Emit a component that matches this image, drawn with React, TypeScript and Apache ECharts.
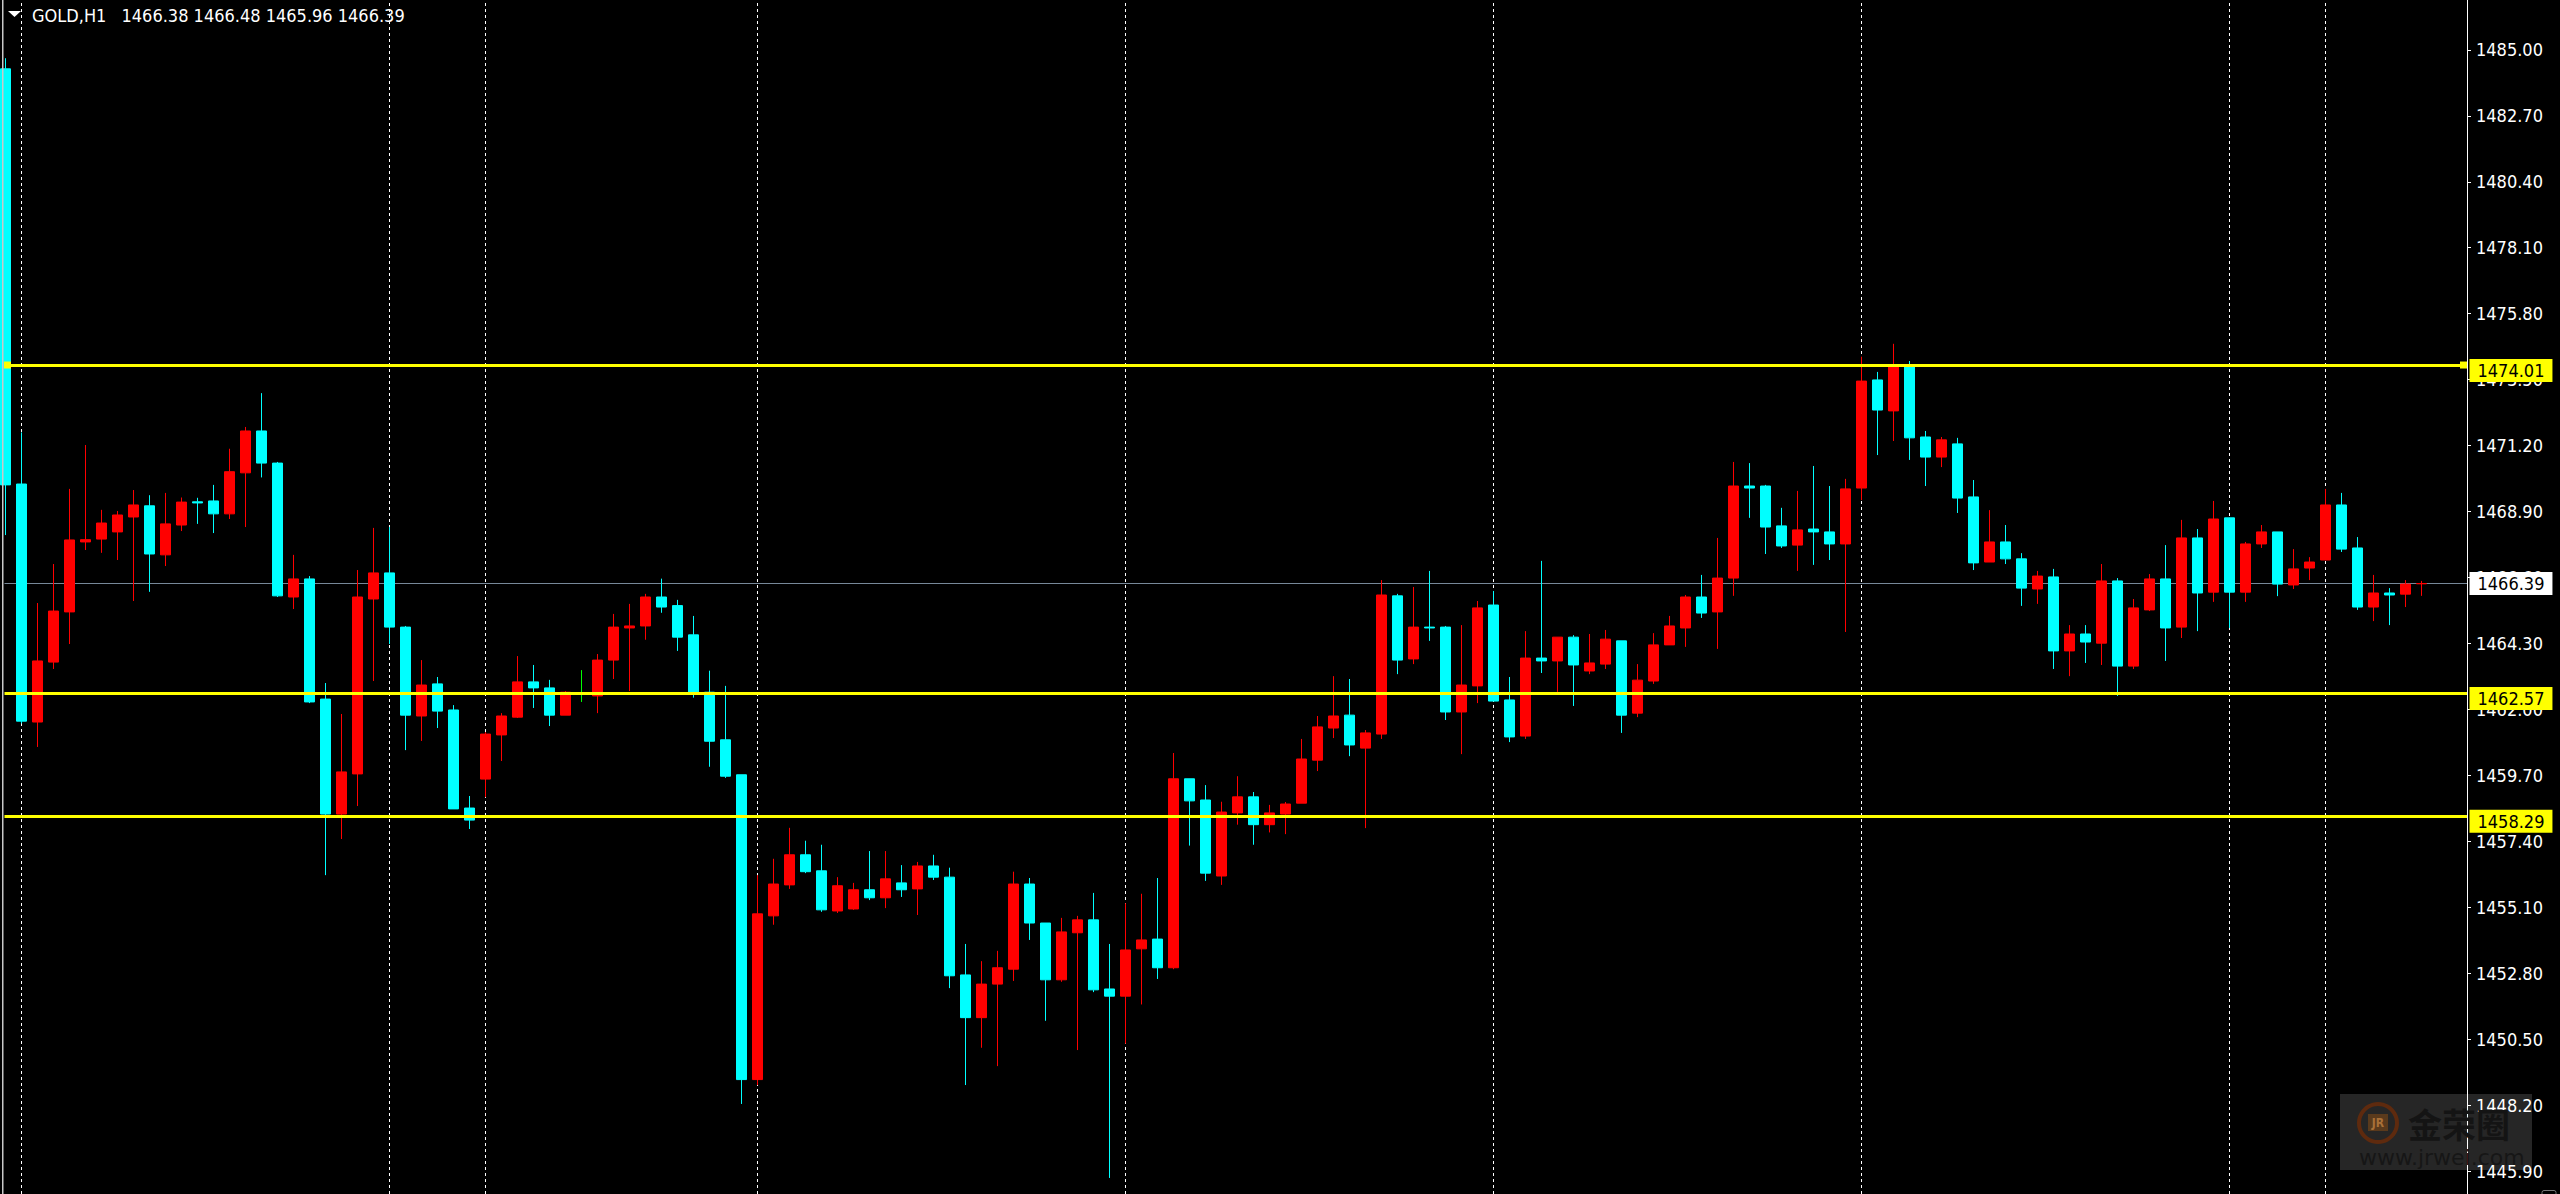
import { useEffect, useRef } from "react"
import * as echarts from "echarts"

const opens = [
  1484.34, 1469.86, 1461.56, 1463.65, 1465.40, 1467.84, 1467.94, 1468.19, 1468.71, 1469.10,
  1467.39, 1468.43, 1469.24, 1469.27, 1468.82, 1470.25, 1471.71, 1470.59, 1465.92, 1466.55,
  1462.36, 1458.35, 1459.75, 1465.85, 1466.76, 1464.87, 1461.77, 1462.89, 1461.98, 1458.56,
  1459.57, 1461.11, 1461.73, 1462.96, 1462.75, 1461.80, 1462.57, 1462.47, 1463.72, 1464.84,
  1464.91, 1465.92, 1465.62, 1464.60, 1462.60, 1460.94, 1459.72, 1449.09, 1454.80, 1455.88,
  1456.93, 1456.37, 1454.97, 1455.04, 1455.71, 1455.43, 1455.95, 1455.74, 1456.54, 1456.15,
  1452.74, 1451.25, 1452.42, 1452.94, 1455.91, 1454.55, 1452.57, 1454.21, 1454.66, 1452.25,
  1452.00, 1453.65, 1453.99, 1452.99, 1459.58, 1458.84, 1456.19, 1458.39, 1458.95, 1457.98,
  1458.35, 1458.73, 1460.23, 1461.35, 1461.80, 1460.65, 1461.14, 1465.96, 1463.76, 1464.87,
  1464.87, 1461.91, 1462.82, 1465.64, 1462.33, 1461.07, 1463.79, 1463.69, 1464.52, 1463.34,
  1463.58, 1464.39, 1461.87, 1462.99, 1464.25, 1464.84, 1465.92, 1465.40, 1466.58, 1469.79,
  1469.79, 1468.40, 1467.73, 1468.29, 1468.19, 1467.77, 1469.72, 1473.49, 1472.41, 1473.95,
  1471.50, 1470.80, 1471.26, 1469.41, 1467.14, 1467.84, 1467.25, 1466.20, 1466.62, 1464.04,
  1464.63, 1464.31, 1466.48, 1463.51, 1465.47, 1466.55, 1464.87, 1467.98, 1466.09, 1468.68,
  1466.09, 1467.77, 1468.19, 1466.34, 1466.93, 1467.21, 1469.13, 1467.63, 1465.57, 1466.06,
  1466.02, 1466.38,
]

const closes = [
  1469.83, 1461.59, 1463.69, 1465.43, 1467.91, 1467.92, 1468.50, 1468.78, 1469.13, 1467.42,
  1468.47, 1469.23, 1469.20, 1468.82, 1470.29, 1471.71, 1470.59, 1465.96, 1466.55, 1462.26,
  1458.35, 1459.82, 1465.92, 1466.76, 1464.87, 1461.80, 1462.85, 1461.94, 1458.53, 1458.14,
  1461.14, 1461.77, 1462.96, 1462.75, 1461.80, 1462.60, 1462.57, 1463.72, 1464.87, 1464.91,
  1465.92, 1465.57, 1464.52, 1462.60, 1460.89, 1459.67, 1449.09, 1454.87, 1455.91, 1456.93,
  1456.34, 1455.01, 1455.85, 1455.71, 1455.43, 1456.09, 1455.71, 1456.54, 1456.15, 1452.71,
  1451.25, 1452.42, 1452.99, 1455.91, 1454.55, 1452.57, 1454.24, 1454.66, 1452.22, 1452.00,
  1453.61, 1453.96, 1452.99, 1459.58, 1458.81, 1456.29, 1458.42, 1458.95, 1457.98, 1458.39,
  1458.70, 1460.27, 1461.39, 1461.77, 1460.76, 1461.18, 1465.99, 1463.72, 1464.87, 1464.84,
  1461.91, 1462.85, 1465.54, 1462.29, 1461.04, 1463.79, 1463.69, 1464.52, 1463.55, 1463.62,
  1464.45, 1461.80, 1463.02, 1464.25, 1464.91, 1465.92, 1465.36, 1466.58, 1469.79, 1469.72,
  1468.36, 1467.70, 1468.26, 1468.19, 1467.77, 1469.69, 1473.45, 1472.44, 1473.98, 1471.47,
  1470.80, 1471.40, 1469.37, 1467.11, 1467.84, 1467.25, 1466.23, 1466.65, 1464.04, 1464.63,
  1464.35, 1466.48, 1463.51, 1465.54, 1466.55, 1464.84, 1467.98, 1466.06, 1468.64, 1466.09,
  1467.77, 1468.19, 1466.37, 1466.90, 1467.14, 1469.13, 1467.59, 1465.57, 1466.06, 1465.99,
  1466.37, 1466.39,
]

const lows = [
  1468.08, 1461.51, 1460.69, 1463.41, 1464.28, 1467.56, 1467.46, 1467.21, 1465.78, 1466.10,
  1467.00, 1468.22, 1468.47, 1468.15, 1468.64, 1468.36, 1470.09, 1465.92, 1465.50, 1462.22,
  1456.22, 1457.48, 1458.63, 1462.99, 1464.28, 1460.58, 1460.90, 1461.35, 1458.53, 1457.83,
  1458.94, 1460.20, 1461.70, 1462.05, 1461.42, 1461.80, 1462.26, 1461.87, 1463.06, 1462.64,
  1464.43, 1465.37, 1464.04, 1462.41, 1460.00, 1459.61, 1448.24, 1448.90, 1454.49, 1455.74,
  1456.29, 1454.94, 1454.90, 1455.01, 1455.35, 1455.07, 1455.46, 1454.83, 1456.05, 1452.28,
  1448.90, 1450.20, 1449.56, 1452.53, 1453.96, 1451.14, 1452.50, 1450.12, 1452.14, 1445.66,
  1450.34, 1451.71, 1452.60, 1452.94, 1457.25, 1456.02, 1455.88, 1457.98, 1457.28, 1457.71,
  1457.65, 1458.73, 1459.85, 1461.00, 1460.37, 1457.86, 1460.97, 1463.23, 1463.58, 1464.39,
  1461.63, 1460.44, 1462.22, 1462.29, 1460.86, 1460.97, 1463.27, 1462.61, 1462.12, 1463.23,
  1463.41, 1461.18, 1461.73, 1462.89, 1464.25, 1464.18, 1465.19, 1464.11, 1465.96, 1468.68,
  1467.42, 1467.63, 1466.83, 1467.04, 1467.21, 1464.70, 1469.30, 1470.87, 1471.36, 1470.70,
  1469.79, 1470.45, 1468.85, 1466.86, 1467.14, 1467.07, 1465.61, 1465.68, 1463.41, 1463.16,
  1463.62, 1463.55, 1462.47, 1463.41, 1465.43, 1463.69, 1464.49, 1464.73, 1465.75, 1464.84,
  1465.75, 1467.63, 1465.95, 1466.20, 1466.51, 1467.21, 1467.49, 1465.47, 1465.08, 1464.94,
  1465.57, 1465.96,
]

const highs = [
  1484.71, 1471.66, 1465.71, 1467.07, 1469.69, 1471.22, 1468.96, 1468.92, 1469.65, 1469.47,
  1469.55, 1469.39, 1469.38, 1469.83, 1471.09, 1471.85, 1473.03, 1470.63, 1467.39, 1466.65,
  1462.92, 1461.84, 1466.86, 1468.33, 1468.36, 1464.91, 1463.72, 1463.13, 1462.15, 1458.98,
  1461.21, 1461.87, 1463.86, 1463.55, 1463.03, 1462.64, 1463.37, 1463.93, 1465.33, 1465.68,
  1466.03, 1466.56, 1465.82, 1465.26, 1463.35, 1462.82, 1459.72, 1456.22, 1456.79, 1457.87,
  1457.42, 1457.28, 1456.15, 1455.95, 1457.06, 1457.06, 1456.57, 1456.68, 1456.93, 1456.48,
  1453.82, 1453.22, 1453.58, 1456.34, 1456.12, 1454.55, 1454.73, 1454.80, 1455.60, 1453.82,
  1455.24, 1455.57, 1456.12, 1460.48, 1459.58, 1459.36, 1458.78, 1459.67, 1459.12, 1458.67,
  1458.77, 1460.97, 1461.77, 1463.16, 1463.06, 1461.28, 1466.51, 1466.03, 1466.27, 1466.83,
  1464.91, 1464.94, 1465.78, 1466.13, 1463.13, 1464.73, 1467.18, 1464.52, 1464.59, 1464.63,
  1464.77, 1464.39, 1463.58, 1464.66, 1465.26, 1465.99, 1466.69, 1467.98, 1470.63, 1470.59,
  1469.83, 1469.03, 1469.62, 1470.49, 1469.79, 1470.04, 1474.30, 1473.77, 1474.75, 1474.15,
  1471.71, 1471.50, 1471.47, 1470.00, 1468.95, 1468.43, 1467.45, 1466.83, 1466.90, 1464.94,
  1464.94, 1467.07, 1466.58, 1465.85, 1466.72, 1467.73, 1468.61, 1468.29, 1469.27, 1468.68,
  1467.84, 1468.43, 1468.19, 1467.59, 1467.31, 1469.69, 1469.55, 1468.01, 1466.69, 1466.23,
  1466.51, 1466.48,
]

const priceTicks = [
  1485.0, 1482.7, 1480.4, 1478.1, 1475.8, 1473.5, 1471.2, 1468.9, 1466.6,
  1464.3, 1462.0, 1459.7, 1457.4, 1455.1, 1452.8, 1450.5, 1448.2, 1445.9,
]
const levels = [1474.01, 1462.57, 1458.29]
const bidPrice = 1466.39
const dayBreaks = [1, 24, 30, 47, 70, 93, 116, 139, 145]
const headerSymbol = "GOLD,H1"
const headerValues = "1466.38 1466.48 1465.96 1466.39"

const FONT = "'DejaVu Sans Condensed', 'Liberation Sans', sans-serif"
const FONT_SIZE = 18
const X_MIN = -0.0625
const X_MAX = 153.84375

export default function App() {
  const chartRef = useRef<HTMLDivElement>(null)

  useEffect(() => {
    if (!chartRef.current) return
    document.body.style.margin = "0"
    document.body.style.background = "#000"

    const chart = echarts.init(chartRef.current, null, { renderer: "svg" })

    const candles = opens.map((o, i) => [i, o, closes[i], lows[i], highs[i]])

    const priceTag = (value: number, bg: string, offsetY: number) => ({
      coord: [X_MAX, value],
      symbol: "rect",
      symbolSize: [1, 1],
      itemStyle: { color: "transparent" },
      label: {
        show: true,
        position: "right",
        distance: 2,
        offset: [0, offsetY],
        formatter: value.toFixed(2),
        color: "#000",
        backgroundColor: bg,
        fontFamily: FONT,
        fontSize: FONT_SIZE,
        lineHeight: 17,
        padding: [3, 8, 3, 8],
      },
    })

    const handle = (x: number, value: number) => ({
      coord: [x, value],
      symbol: "rect",
      symbolSize: [7, 7],
      itemStyle: { color: "#ffff00" },
      label: { show: false },
    })

    const option = {
      animation: false,
      backgroundColor: "#000",
      grid: { left: 4.5, right: 93, top: 0, bottom: 0 },
      xAxis: {
        type: "value",
        min: X_MIN,
        max: X_MAX,
        show: false,
        splitLine: { show: false },
      },
      yAxis: {
        type: "value",
        position: "right",
        min: 1445.1,
        max: 1486.74,
        splitLine: { show: false },
        axisLine: { show: true, onZero: false, lineStyle: { color: "#fff", width: 1 } },
        axisTick: {
          show: true,
          length: 4,
          lineStyle: { color: "#fff", width: 1 },
          customValues: priceTicks,
        },
        axisLabel: {
          color: "#fff",
          fontFamily: FONT,
          fontSize: FONT_SIZE,
          margin: 9,
          padding: [2, 0, 0, 0],
          customValues: priceTicks,
          formatter: (v: number) => v.toFixed(2),
        },
      },
      series: [
        {
          // period separators and bid line sit behind the candles
          type: "line",
          z: 1,
          data: [],
          symbol: "none",
          clip: false,
          markLine: {
            z: 1,
            silent: true,
            symbol: "none",
            label: { show: false },
            data: [
              ...dayBreaks.map((x) => ({
                xAxis: x,
                lineStyle: { color: "#fff", width: 1, type: [3, 3] },
              })),
              { yAxis: bidPrice, lineStyle: { color: "#778899", width: 1, type: "solid" } },
            ],
          },
        },
        {
          type: "candlestick",
          z: 2,
          barWidth: 10,
          data: candles,
          itemStyle: {
            color: "#ff0000",
            color0: "#00ffff",
            borderColor: "#ff0000",
            borderColor0: "#00ffff",
            borderColorDoji: "#00ff00",
            borderWidth: 1,
          },
        },
        {
          // horizontal levels and price tags go on top of everything
          type: "line",
          z: 3,
          data: [],
          symbol: "none",
          clip: false,
          markLine: {
            z: 5,
            silent: true,
            symbol: "none",
            label: { show: false },
            lineStyle: { color: "#ffff00", width: 3, type: "solid" },
            data: levels.map((v) => ({ yAxis: v })),
          },
          markPoint: {
            z: 6,
            silent: true,
            data: [
              handle(0.125, levels[0]),
              handle(153.625, levels[0]),
              ...levels.map((v) => priceTag(v, "#ffff00", 5.5)),
              priceTag(bidPrice, "#ffffff", 0),
            ],
          },
        },
      ],
      graphic: {
        elements: [
          // left window edge
          { type: "rect", z: 50, shape: { x: 2, y: 0, width: 1.5, height: 1194 }, style: { fill: "#c8c8c8" } },
          // chart header
          { type: "polygon", z: 50, shape: { points: [[8, 11], [21, 11], [14.5, 17]] }, style: { fill: "#fff" } },
          {
            type: "text", z: 50, x: 32, y: 15,
            style: { text: headerSymbol, fill: "#fff", font: `${FONT_SIZE}px ${FONT}`, textVerticalAlign: "middle" },
          },
          {
            type: "text", z: 50, x: 121.5, y: 15,
            style: { text: headerValues, fill: "#fff", font: `${FONT_SIZE}px ${FONT}`, textVerticalAlign: "middle" },
          },
          // watermark
          { type: "rect", z: 60, shape: { x: 2340, y: 1094, width: 192, height: 76 }, style: { fill: "rgba(255,255,255,0.15)" } },
          { type: "ring", z: 61, shape: { cx: 2378, cy: 1123, r: 21, r0: 17 }, style: { fill: "#5e2a0e" } },
          { type: "rect", z: 61, shape: { x: 2368, y: 1114, width: 20, height: 17 }, style: { fill: "#5a3a1c" } },
          {
            type: "text", z: 62, x: 2378, y: 1122.5,
            style: { text: "JR", fill: "#a87038", font: `bold 12px ${FONT}`, textAlign: "center", textVerticalAlign: "middle" },
          },
          {
            type: "text", z: 62, x: 2408, y: 1123,
            style: { text: "金荣圈", fill: "#141414", font: "bold 34px 'Noto Sans CJK SC'", textVerticalAlign: "middle" },
          },
          {
            type: "text", z: 62, x: 2359, y: 1157,
            style: { text: "www.jrwei.com", fill: "#161616", font: "22px 'DejaVu Sans'", textVerticalAlign: "middle" },
          },
          // corner grip
          { type: "rect", z: 50, shape: { x: 2542, y: 1190.5, width: 14, height: 8, r: 2 }, style: { fill: "transparent", stroke: "#777", lineWidth: 1 } },
        ],
      },
    }

    chart.setOption(option as any)

    return () => {
      chart.dispose()
    }
  }, [])

  return (
    <div
      ref={chartRef}
      style={{ position: "fixed", left: 0, top: 0, width: 2560, height: 1194, background: "#000" }}
    />
  )
}
